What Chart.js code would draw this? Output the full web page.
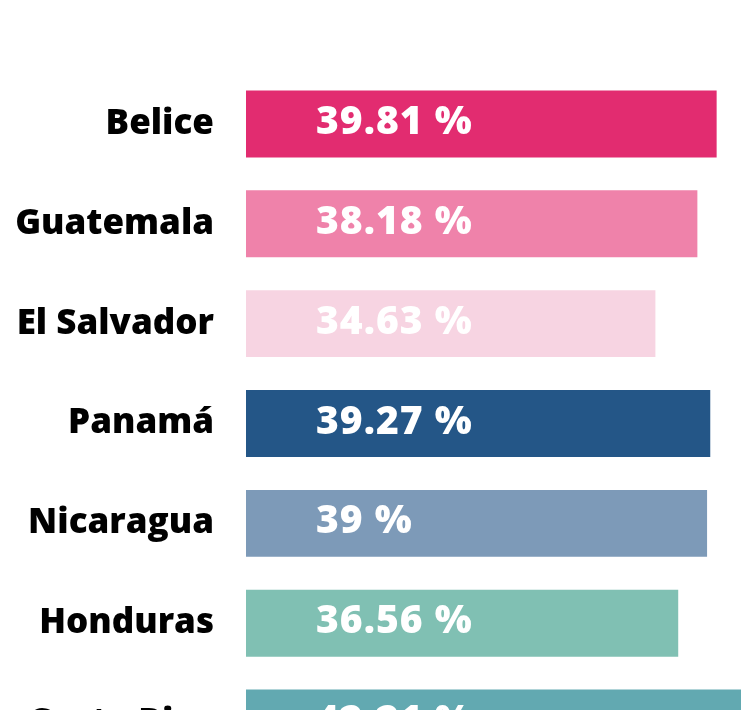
<!DOCTYPE html>
<html>
<head>
<meta charset="utf-8">
<script src="https://cdn.jsdelivr.net/npm/chart.js@4/dist/chart.umd.min.js"></script>
<style>
  html, body { margin: 0; padding: 0; background: #fff; overflow: hidden; }
</style>
</head>
<body>
<canvas id="chart-area" width="778" height="826"></canvas>
<script>
// datos
var paises = ["Belice", "Guatemala", "El Salvador", "Panamá", "Nicaragua", "Honduras", "Costa Rica"];
var valores = [39.81, 38.18, 34.63, 39.27, 39, 36.56, 42.21];
var colores = ["#E22C70", "#EF82AA", "#F7D4E2", "#245687", "#7D9AB8", "#80C0B3", "#62A9B1"];
var xMax = 45;

var fuente = "'Open Sans', Inter, sans-serif";

// etiqueta con el valor dentro de la barra
var etiquetas = {
  id: "etiquetas",
  afterDatasetsDraw: function(chart) {
    var ctx = chart.ctx;
    var meta = chart.getDatasetMeta(0);
    ctx.save();
    ctx.fillStyle = "#fff";
    ctx.font = "800 39px " + fuente;
    ctx.letterSpacing = "1px";
    ctx.textAlign = "left";
    ctx.textBaseline = "middle";
    meta.data.forEach(function(bar, i) {
      ctx.fillText(valores[i] + " %", bar.base + 70, bar.y - 1);
    });
    ctx.restore();
  }
};

var ctx = document.getElementById("chart-area");
var myChart = new Chart(ctx, {
  type: "bar",
  data: {
    labels: paises,
    datasets: [{
      data: valores,
      backgroundColor: colores,
      borderWidth: 0,
      categoryPercentage: 1,
      barPercentage: 0.67
    }]
  },
  options: {
    indexAxis: "y",
    responsive: false,
    animation: false,
    devicePixelRatio: 1,
    layout: { padding: { top: 74, left: 0, right: 0, bottom: 0 } },
    plugins: {
      legend: { display: false },
      tooltip: { enabled: false }
    },
    scales: {
      x: {
        display: false,
        min: 0,
        max: xMax
      },
      y: {
        border: { display: false },
        grid: { display: false, drawTicks: false },
        ticks: {
          color: "#000",
          padding: 32,
          font: { family: fuente, size: 35, weight: "800" }
        },
        afterFit: function(scale) { scale.width = 246; }
      }
    }
  },
  plugins: [etiquetas]
});
</script>
</body>
</html>
